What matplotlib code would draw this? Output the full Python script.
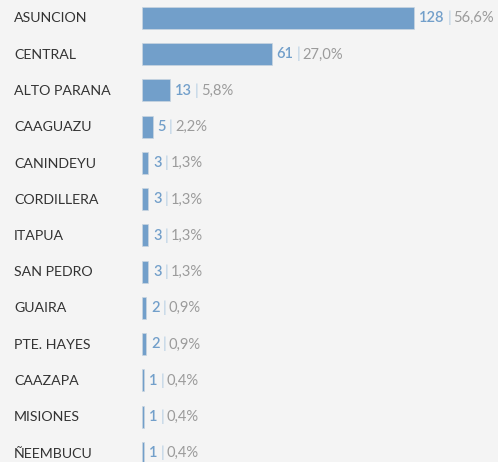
import matplotlib
matplotlib.use("Agg")
import matplotlib.pyplot as plt
from matplotlib.offsetbox import TextArea, HPacker, AnnotationBbox

departments = ["ASUNCION", "CENTRAL", "ALTO PARANA", "CAAGUAZU", "CANINDEYU",
               "CORDILLERA", "ITAPUA", "SAN PEDRO", "GUAIRA", "PTE. HAYES",
               "CAAZAPA", "MISIONES", "ÑEEMBUCU"]
counts = [128, 61, 13, 5, 3, 3, 3, 3, 2, 2, 1, 1, 1]
percents = ["56,6%", "27,0%", "5,8%", "2,2%", "1,3%", "1,3%", "1,3%", "1,3%",
            "0,9%", "0,9%", "0,4%", "0,4%", "0,4%"]

BG = "#f4f4f4"
BAR = "#729fca"
FONT = "Lato"
W, H = 498, 462

fig = plt.figure(figsize=(W / 100, H / 100), dpi=100, facecolor=BG)
x0 = 142
ax = fig.add_axes([x0 / W, 0, (W - x0) / W, 1])
ax.set_facecolor(BG)

px_per_unit = (414 - 142) / 128
ax.set_xlim(0, (W - x0) / px_per_unit)
row = 36.25
ax.set_ylim(12 + (H - 453) / row, -18 / row)

ypos = list(range(len(departments)))
ax.barh(ypos, counts, height=22 / row, color=BAR, edgecolor="#c9d5e0", linewidth=0.5)

for i, (name, c, p) in enumerate(zip(departments, counts, percents)):
    fig.text(14 / W, 1 - (18.5 + 36.25 * i) / H, name, ha="left", va="center",
             fontsize=10.2, color="#333333", family=FONT)
    parts = [
        TextArea(str(c), textprops=dict(color=BAR, fontsize=10.5, family=FONT, fontweight="semibold")),
        TextArea("|", textprops=dict(color="#b3cde4", fontsize=11, family=FONT)),
        TextArea(p, textprops=dict(color="#9b9b9b", fontsize=10.6, family=FONT)),
    ]
    box = HPacker(children=parts, align="baseline", pad=0, sep=2)
    ab = AnnotationBbox(box, (c, i), xybox=(3.5, 0), xycoords="data",
                        boxcoords="offset points", box_alignment=(0, 0.5),
                        frameon=False, pad=0)
    ax.add_artist(ab)

ax.set_xticks([])
ax.set_yticks([])
for s in ax.spines.values():
    s.set_visible(False)

fig.savefig("out.png", dpi=100, facecolor=BG)
